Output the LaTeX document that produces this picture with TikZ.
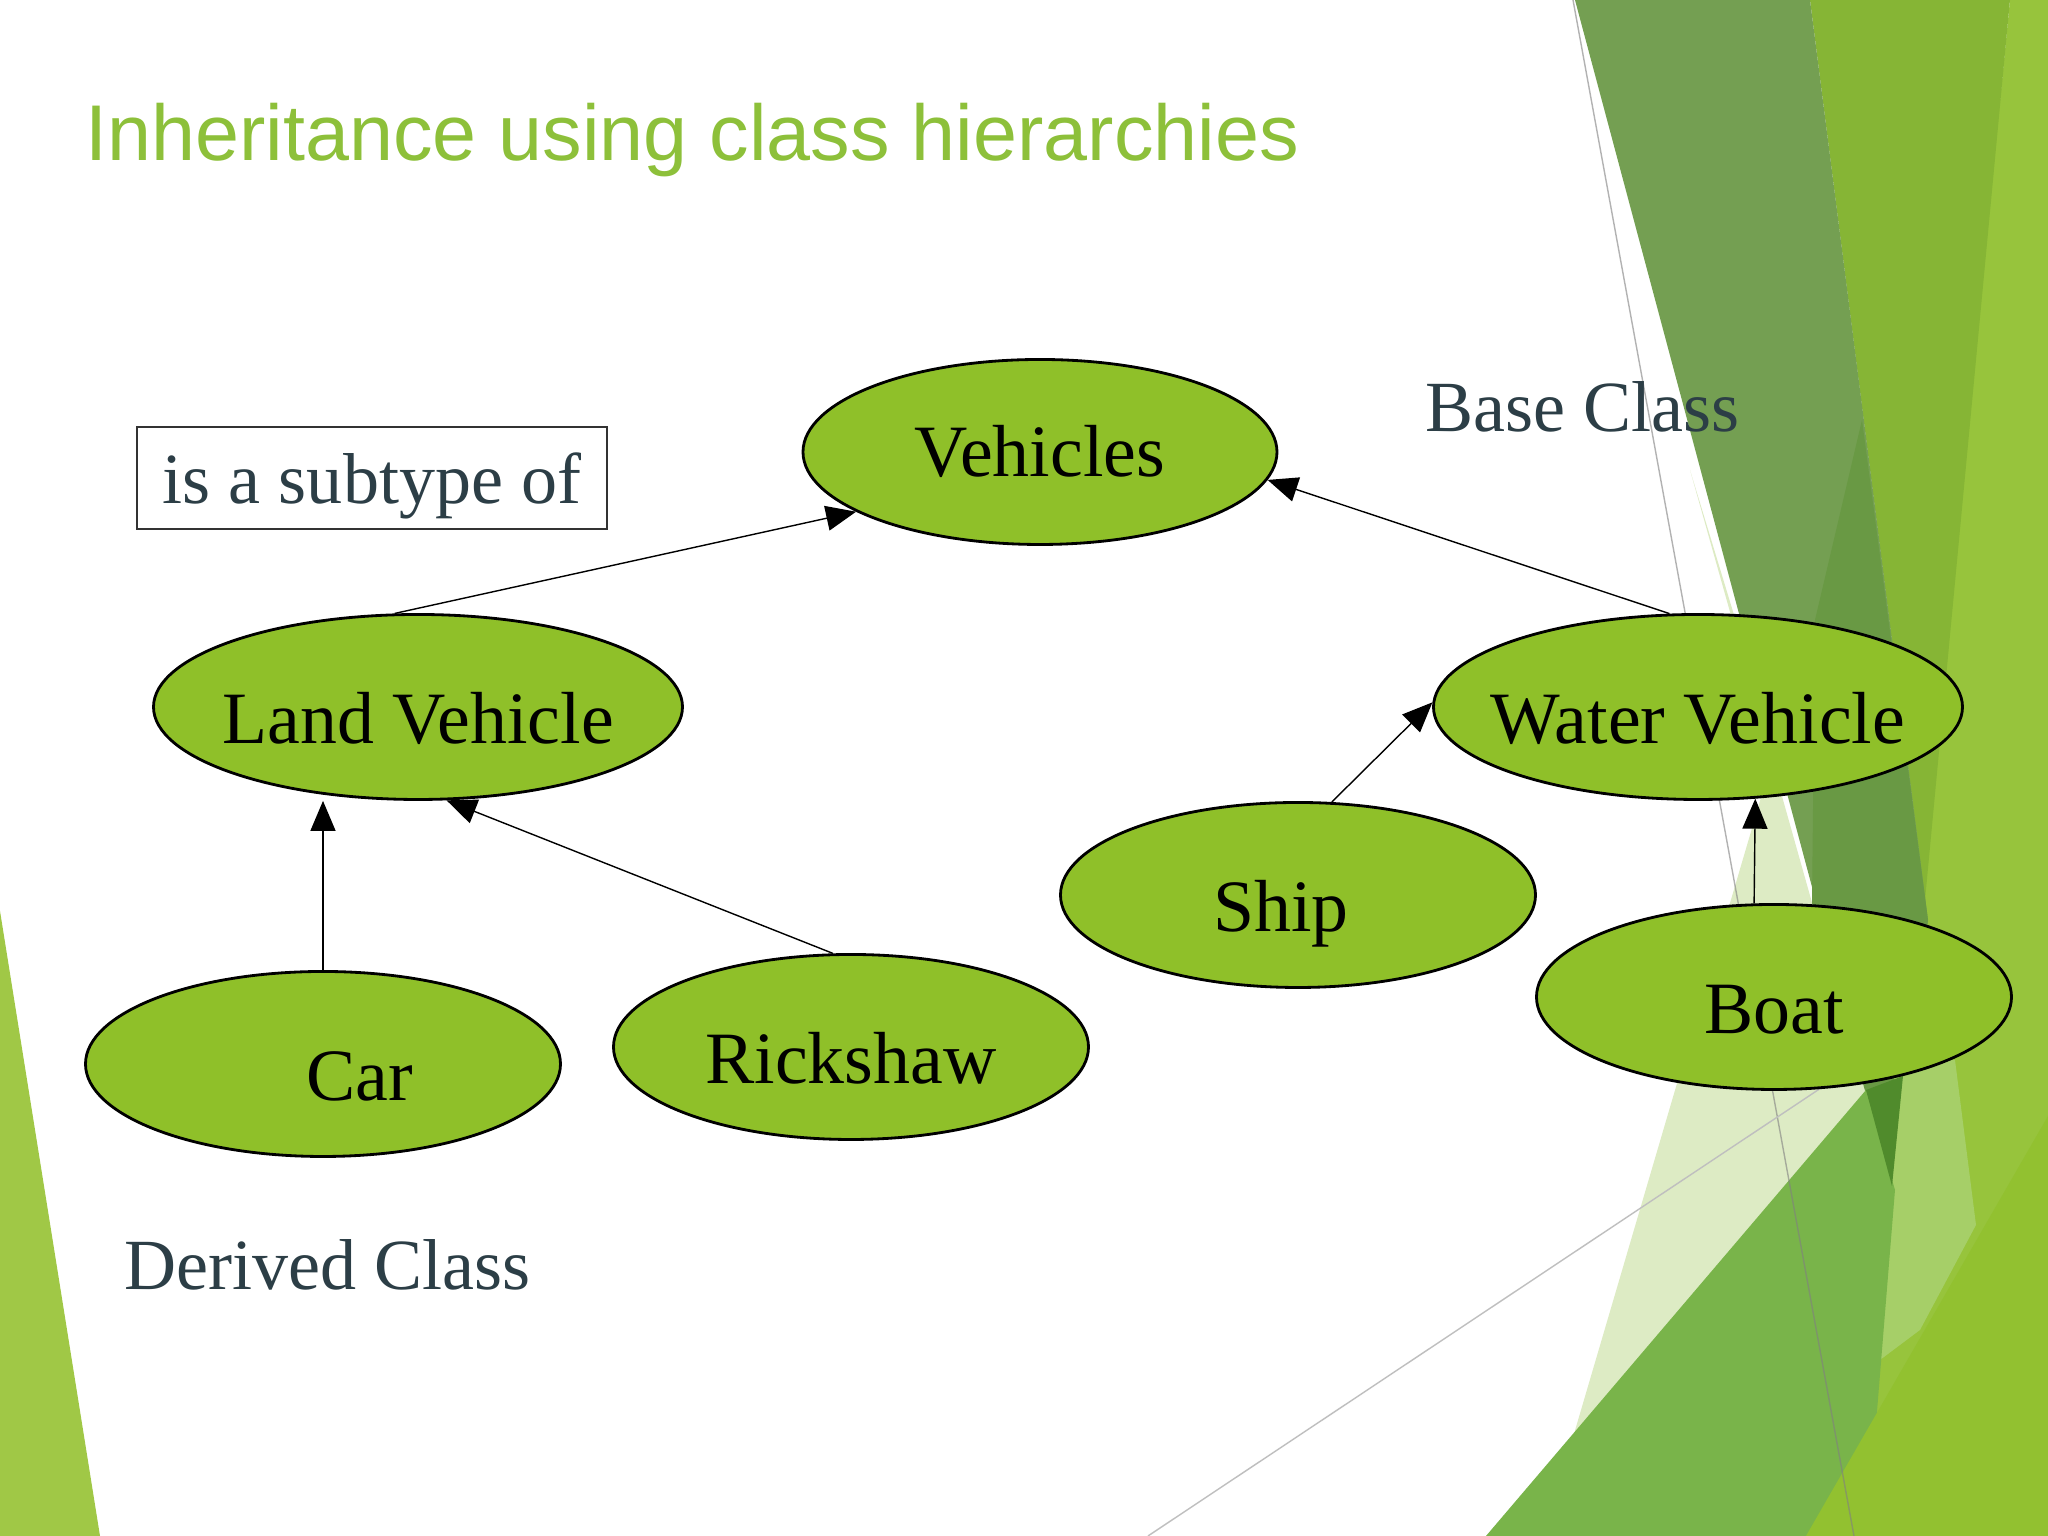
\documentclass[tikz,border=0pt]{standalone}
\usepackage{fontspec}
\setmainfont{Liberation Serif}
\newfontfamily\titlefont{Liberation Sans}
\usetikzlibrary{arrows.meta,shapes.geometric,positioning}

\definecolor{leaf}{RGB}{143,192,41}
\definecolor{ttl}{RGB}{141,192,58}
\definecolor{slate}{RGB}{44,62,70}
\definecolor{olive}{RGB}{116,159,82}
\definecolor{deepolive}{RGB}{105,153,68}
\definecolor{midgreen}{RGB}{134,181,53}
\definecolor{lightgreen}{RGB}{151,196,60}
\definecolor{palegreen}{RGB}{221,235,196}
\definecolor{grassgreen}{RGB}{121,180,74}
\definecolor{darkgreen}{RGB}{80,139,44}
\definecolor{yellowgreen}{RGB}{146,193,48}
\definecolor{softgreen}{RGB}{166,207,104}
\definecolor{leftgreen}{RGB}{160,200,70}

\tikzset{
  cls/.style={ellipse, draw=black, line width=0.8pt, fill=leaf, inner sep=0pt,
              minimum height=1.85cm, text height=0.74cm, text depth=0pt,
              font=\fontsize{21}{25}\selectfont},
  inh/.style={-{Triangle[length=3mm,width=2.5mm]}, line width=0.4pt},
  note/.style={inner sep=0pt, text=slate, font=\fontsize{20.5}{24}\selectfont},
}
\newcommand{\cname}[2][0pt]{\makebox[0pt]{\hspace{#1}#2}}

\begin{document}
\begin{tikzpicture}
    \useasboundingbox (0,0) rectangle (20.48,15.36);
    \fill[white] (0,0) rectangle (20.48,15.36);

    \fill[palegreen] (16.90,10.66) -- (18.93,3.46) -- (18.70,0) -- (15.44,0) -- (17.75,7.86) -- cycle;
    \fill[lightgreen] (20.10,15.36) -- (20.48,15.36) -- (20.48,0) -- (18.58,0) -- cycle;
    \fill[midgreen] (18.10,15.36) -- (20.10,15.36) -- (19.25,6.36) -- cycle;
    \fill[olive] (15.75,15.36) -- (18.10,15.36) -- (19.28,6.16) -- (18.93,3.46) -- cycle;
    \fill[deepolive] (18.62,11.16) -- (19.28,6.16) -- (18.93,3.46) -- (18.12,6.33) -- (18.15,9.16) -- cycle;
    \fill[softgreen] (18.95,4.76) -- (19.55,4.76) -- (19.76,3.11) -- (19.20,2.06) -- (18.80,1.76) -- cycle;
    \fill[grassgreen] (14.86,0) -- (18.66,4.46) -- (18.95,3.46) -- (18.75,1.00) -- (18.62,0) -- cycle;
    \fill[darkgreen] (18.66,4.46) -- (19.03,4.60) -- (18.92,3.50) -- cycle;
    \fill[yellowgreen] (18.06,0) -- (20.48,4.20) -- (20.48,0) -- cycle;
    \fill[leftgreen] (0,6.25) -- (1.00,0) -- (0,0) -- cycle;
    \draw[gray, opacity=0.6, line width=0.4pt] (15.73,15.36) -- (18.54,0);
    \draw[gray!50, line width=0.4pt] (11.48,0) -- (18.30,4.54);

    \node[anchor=base west, inner sep=0pt, text=ttl, font=\titlefont\fontsize{22.5}{27}\selectfont] (title) at (0.85,13.75) {Inheritance using class hierarchies};

    \node[cls, minimum width=4.74cm, text height=0.5cm] (veh) at (10.40,10.84) {\cname{Vehicles}};
    \node[cls, minimum width=5.29cm] (land) at (4.18,8.29) {\cname{Land Vehicle}};
    \node[cls, minimum width=5.29cm] (water) at (16.98,8.29) {\cname{Water Vehicle}};
    \node[cls, minimum width=4.75cm] (ship) at (12.98,6.41) {\cname[-0.34cm]{Ship}};
    \node[cls, minimum width=4.75cm] (boat) at (17.74,5.39) {\cname{Boat}};
    \node[cls, minimum width=4.75cm] (car) at (3.23,4.72) {\cname[0.74cm]{Car}};
    \node[cls, minimum width=4.75cm] (rick) at (8.51,4.89) {\cname{Rickshaw}};

    \draw[inh] (land.104) -- (veh.198);
    \draw[inh] (water.107) -- (veh.353);
    \draw[inh] (car) -- (car |- land.south);
    \draw[inh] (rick.101) -- (land.287);
    \draw[inh] (ship.70) -- (water.179);
    \draw[inh] (boat.102) -- (water.302);

    \node[note, draw=black!80, line width=0.4pt, text depth=0pt, minimum width=4.70cm, minimum height=1.02cm] (subtype) at (3.72,10.58) {is a subtype of};
    \node[note, anchor=base west] (base) at (14.25,11.04) {Base Class};
    \node[note, anchor=base west] (derived) at (1.24,2.46) {Derived Class};
\end{tikzpicture}
\end{document}
